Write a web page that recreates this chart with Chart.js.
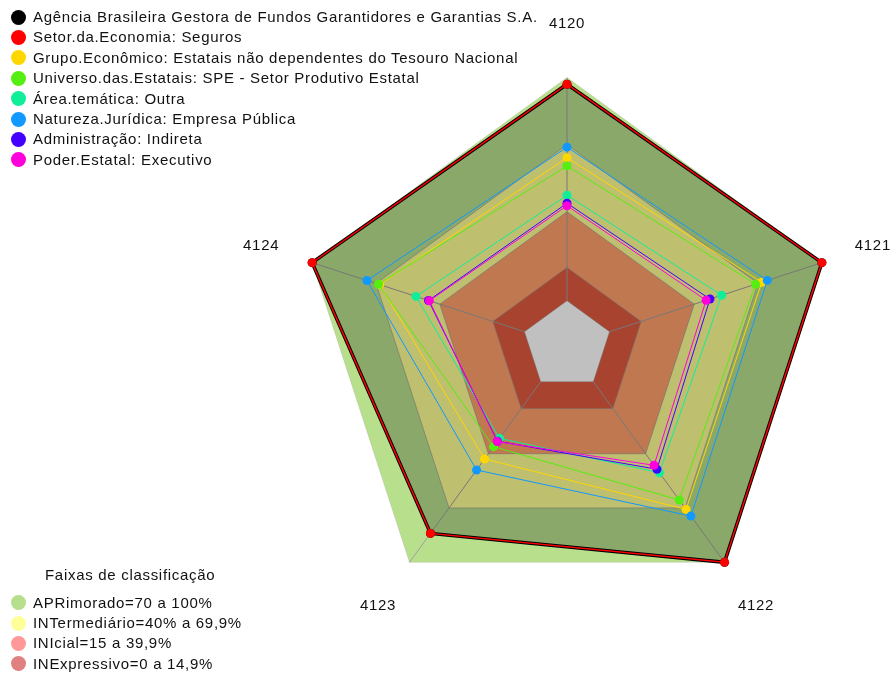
<!DOCTYPE html>
<html lang="pt-BR">
<head>
<meta charset="utf-8">
<title>Radar 4120 a 4124</title>
<script src="https://cdn.jsdelivr.net/npm/chart.js@4.4.1/dist/chart.umd.min.js"></script>
<style>
  body { margin: 0; background: #fff; font-family: "Liberation Sans", Arial, sans-serif; }
  #wrap { position: relative; width: 893px; height: 673px; overflow: hidden; }
  #grafico { position: absolute; left: 0; top: 0; }
  .legenda { position: absolute; left: 11px; font-size: 15px; letter-spacing: 0.7px; color: #111; }
  .legenda div { height: 20.4px; line-height: 20.4px; white-space: nowrap; position: relative; padding-left: 22px; }
  .legenda .bola { position: absolute; left: -0.5px; top: 2.7px; width: 15px; height: 15px; border-radius: 50%; }
  #legSeries { top: 7px; }
  #legFaixas { top: 592.5px; }
  #tituloFaixas { position: absolute; left: 45px; top: 565px; font-size: 15px; letter-spacing: 0.7px; line-height: 20px; color: #111; }
</style>
</head>
<body>
<div id="wrap">
  <canvas id="grafico" width="893" height="673"></canvas>
  <div class="legenda" id="legSeries"></div>
  <div id="tituloFaixas">Faixas de classificação</div>
  <div class="legenda" id="legFaixas"></div>
</div>
<script>
// eixos do radar
const eixos = ['4120', '4121', '4122', '4123', '4124'];

// series (valores em %, na ordem dos eixos)
const nomesSeries = [
  'Agência Brasileira Gestora de Fundos Garantidores e Garantias S.A.',
  'Setor.da.Economia: Seguros',
  'Grupo.Econômico: Estatais não dependentes do Tesouro Nacional',
  'Universo.das.Estatais: SPE - Setor Produtivo Estatal',
  'Área.temática: Outra',
  'Natureza.Jurídica: Empresa Pública',
  'Administração: Indireta',
  'Poder.Estatal: Executivo'
];
const agencia = [97, 100, 100, 84, 100];
const setorEconomia = [97, 100, 100, 84, 100];
const grupoEconomico = [64.1, 71.7, 70.7, 42.8, 68.2];
const universoEstatais = [60.4, 68.8, 65.5, 36.0, 68.8];
const areaTematica = [47.3, 52.8, 50.4, 31.4, 51.1];
const naturezaJuridica = [68.8, 74.3, 74.4, 48.9, 74.2];
const administracao = [43.7, 47.3, 48.5, 33.0, 45.2];
const poderEstatal = [42.6, 45.5, 46.3, 33.2, 44.8];

// faixas de classificacao
const nomesFaixas = ['APRimorado=70 a 100%', 'INTermediário=40% a 69,9%', 'INIcial=15 a 39,9%', 'INExpressivo=0 a 14,9%'];
const limitesFaixas = [100, 69.9, 39.9, 14.9];
const baseFaixas = 0;

// escala radial
const escalaMin = -20;
const escalaMax = 100;

const valoresSeries = [agencia, setorEconomia, grupoEconomico, universoEstatais,
  areaTematica, naturezaJuridica, administracao, poderEstatal];
const coresSeries = ['#000000', '#ff0000', '#ffd700', '#55ee11', '#11ee99', '#1199ff', '#4400ff', '#ff00dd'];
const coresFaixas = ['#b8e08c', '#ffff96', '#ffa06b', '#e05a40'];
const coresLegendaFaixas = ['#b5df8c', '#ffff99', '#ff9999', '#e08080'];

// legendas em html
function montaLegenda(id, nomes, cores) {
  const el = document.getElementById(id);
  nomes.forEach((n, i) => {
    const row = document.createElement('div');
    const bola = document.createElement('span');
    bola.className = 'bola';
    bola.style.background = cores[i];
    row.appendChild(bola);
    row.appendChild(document.createTextNode(n));
    el.appendChild(row);
  });
}
montaLegenda('legSeries', nomesSeries, coresSeries);
montaLegenda('legFaixas', nomesFaixas, coresLegendaFaixas);

// linhas dos eixos e rotulos
const eixosPlugin = {
  id: 'eixosPlugin',
  afterDatasetDraw(chart, args) {
    if (chart.data.datasets[args.index].id !== 'centro') return;
    const r = chart.scales.r;
    const ctx = chart.ctx;
    const r0 = r.getDistanceFromCenterForValue(baseFaixas);
    ctx.save();
    ctx.strokeStyle = '#a0a0a0';
    ctx.lineWidth = 1;
    eixos.forEach((e, i) => {
      const a = r.getPointPosition(i, r0);
      const b = r.getPointPosition(i, r.drawingArea);
      ctx.beginPath();
      ctx.moveTo(a.x, a.y);
      ctx.lineTo(b.x, b.y);
      ctx.stroke();
    });
    ctx.restore();
  },
  afterDraw(chart) {
    const r = chart.scales.r;
    const ctx = chart.ctx;
    ctx.save();
    ctx.font = '15px "Liberation Sans", Arial, sans-serif';
    ctx.letterSpacing = '0.7px';
    ctx.fillStyle = '#111';
    ctx.textAlign = 'center';
    ctx.textBaseline = 'middle';
    eixos.forEach((e, i) => {
      const p = r.getPointPosition(i, r.drawingArea * 1.2);
      ctx.fillText(e, p.x, p.y);
    });
    ctx.restore();
  }
};

const datasets = [];

limitesFaixas.forEach((lim, k) => {
  datasets.push({
    label: nomesFaixas[k],
    data: eixos.map(() => lim),
    backgroundColor: coresFaixas[k],
    borderColor: k === 0 ? 'rgba(150,150,150,0.25)' : 'rgba(150,150,150,0.6)',
    borderWidth: 1,
    pointRadius: 0,
    fill: 'start',
    clip: false,
    order: 40 - k
  });
});

datasets.push({
  id: 'centro',
  label: 'centro',
  data: eixos.map(() => baseFaixas),
  backgroundColor: '#c0c0c0',
  borderColor: 'rgba(150,150,150,0.6)',
  borderWidth: 1,
  pointRadius: 0,
  fill: 'start',
  clip: false,
  order: 30
});

valoresSeries.forEach((vals, i) => {
  datasets.push({
    label: nomesSeries[i],
    data: vals,
    borderColor: coresSeries[i],
    borderWidth: i === 0 ? 3.5 : (i === 1 ? 1.5 : 1),
    backgroundColor: i === 0 ? 'rgba(0,0,0,0.25)' : 'transparent',
    fill: i === 0 ? 'origin' : false,
    pointRadius: 4.5,
    pointBorderWidth: 0,
    pointBackgroundColor: coresSeries[i],
    pointBorderColor: coresSeries[i],
    clip: false,
    order: 20 - i
  });
});

new Chart(document.getElementById('grafico').getContext('2d'), {
  type: 'radar',
  data: { labels: eixos, datasets: datasets },
  options: {
    responsive: false,
    animation: false,
    events: [],
    layout: { padding: { left: 299, right: 58, top: 77.5, bottom: 59.5 } },
    plugins: {
      legend: { display: false },
      tooltip: { enabled: false }
    },
    scales: {
      r: {
        min: escalaMin,
        max: escalaMax,
        ticks: { display: false },
        grid: { display: false },
        angleLines: { display: false },
        pointLabels: { display: false },
        afterFit(scale) {
          scale.xCenter = scale.left + scale.width / 2;
          scale.yCenter = scale.top + scale.height / 2;
          scale.drawingArea = Math.min(scale.width, scale.height) / 2;
        }
      }
    }
  },
  plugins: [eixosPlugin]
});
</script>
</body>
</html>
